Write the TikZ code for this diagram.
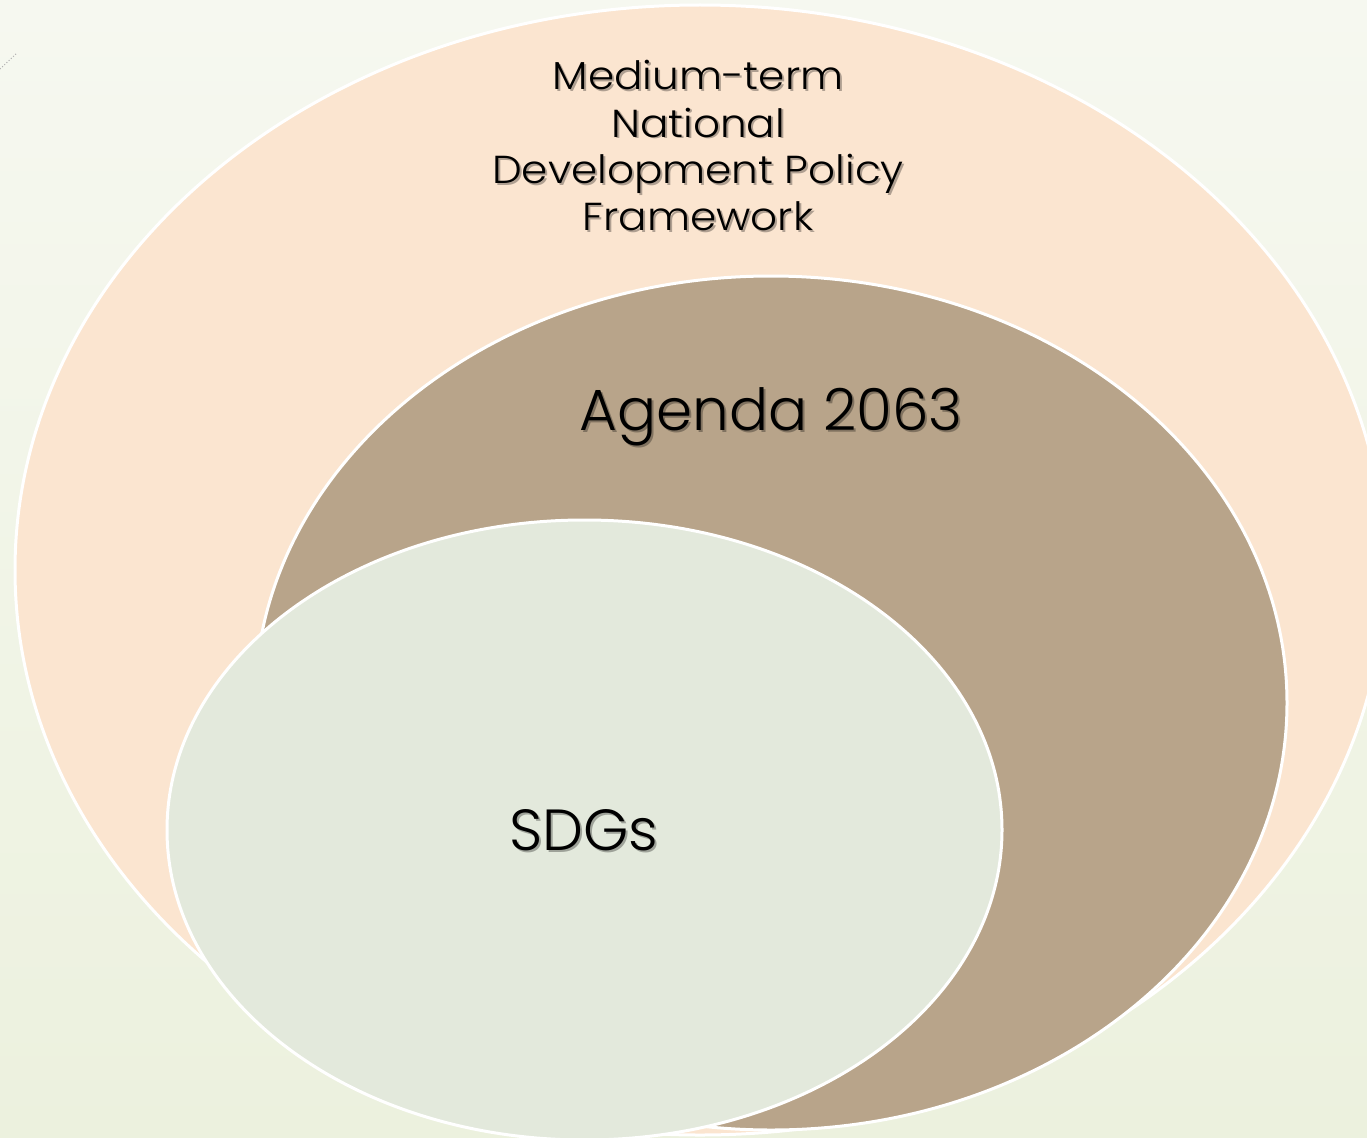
\documentclass[tikz,border=0pt]{standalone}
\usepackage{fontspec}
\setmainfont{Poppins}[UprightFont=* Light]
\definecolor{bgtop}{RGB}{246,248,240}
\definecolor{bgbot}{RGB}{236,241,222}
\definecolor{peach}{RGB}{251,229,208}
\definecolor{tan}{RGB}{184,164,138}
\definecolor{sage}{RGB}{227,233,220}
\tikzset{
  blob/.style={draw=white,line width=3pt},
  lbl/.style={anchor=base,inner sep=0pt,text=black},
  shd/.style={anchor=base,inner sep=0pt,text=black,opacity=0.3},
  small/.style={font=\fontsize{39}{46}\selectfont},
  big/.style={font=\fontsize{58}{66}\selectfont},
}
\newcommand{\wider}[1]{\scalebox{1.08}[1]{#1}}
\begin{document}
\begin{tikzpicture}[x=1pt,y=-1pt]
\useasboundingbox (0,0) rectangle (1367,1137);
\shade[top color=bgtop,bottom color=bgbot] (0,0) rectangle (1367,1137);
\draw[gray!60,line width=1pt,dotted] (0,69) -- (17,53);
\begin{scope}
\clip (0,0) rectangle (1367,1137);
\path[blob,fill=peach] (700,570) ellipse [x radius=685,y radius=565];
\path[blob,fill=tan] (771,703) ellipse [x radius=516,y radius=427];
\path[blob,fill=sage] (584.5,830) ellipse [x radius=417.5,y radius=310];
\end{scope}
% outer labels
\foreach \n/\t/\y in {a/Medium-term/90,b/National/137,c/Development Policy/183,d/Framework/230}{
  \node[shd,small] (s\n) at (700,\y+2) {\wider{\t}};
  \node[lbl,small] (l\n) at (698,\y) {\wider{\t}};
}
\node[shd,big] (sag) at (773,432) {Agenda 2063};
\node[lbl,big] (ag) at (771,430) {Agenda 2063};
\node[shd,big] (ssd) at (586,852) {SDGs};
\node[lbl,big] (sd) at (584,850) {SDGs};
\end{tikzpicture}
\end{document}
